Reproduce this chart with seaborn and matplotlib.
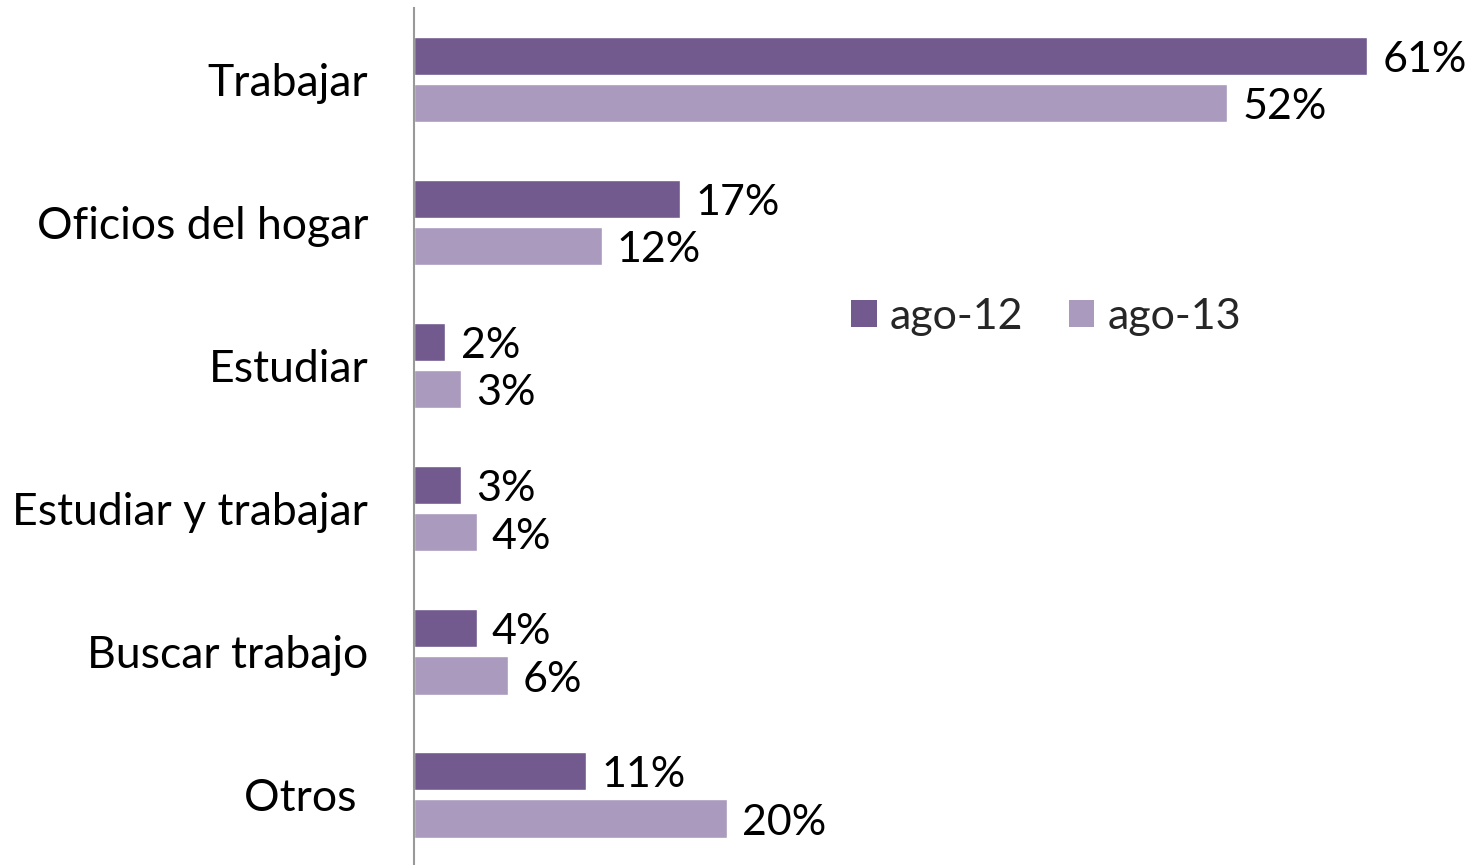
import matplotlib
matplotlib.use("Agg")
import matplotlib.pyplot as plt
import seaborn as sns
import pandas as pd
from matplotlib.patches import Patch

categories = ["Trabajar", "Oficios del hogar", "Estudiar", "Estudiar y trabajar", "Buscar trabajo", "Otros "]
series_names = ["ago-12", "ago-13"]
ago12 = [61, 17, 2, 3, 4, 11]
ago13 = [52, 12, 3, 4, 6, 20]
colors = ["#725a8e", "#a99abe"]

df = pd.DataFrame({
    "cat": categories * 2,
    "serie": [series_names[0]] * len(categories) + [series_names[1]] * len(categories),
    "val": ago12 + ago13,
})

sns.set_style("white")
plt.rcParams["font.family"] = ["Lato", "DejaVu Sans"]

fig = plt.figure(figsize=(14.8, 8.65), dpi=100)
ax = fig.add_axes([414 / 1480, 0, 1 - 414 / 1480, 1 - 8 / 865])

sns.barplot(data=df, y="cat", x="val", hue="serie", order=categories,
            hue_order=series_names, palette=colors, orient="h",
            width=0.66, gap=0.19, ax=ax, legend=False, saturation=1)

ax.set_xlim(0, 68.2)
ax.set_ylim(5.49, -0.5)
ax.set_xlabel("")
ax.set_ylabel("")
ax.set_xticks([])
for s in ["top", "right", "bottom"]:
    ax.spines[s].set_visible(False)
ax.spines["left"].set_color("#999999")
ax.spines["left"].set_linewidth(1.5)
ax.tick_params(axis="y", length=0, pad=33, labelsize=32, labelcolor="#000000")

for cont in ax.containers:
    anns = ax.bar_label(cont, labels=[f"{int(v)}%" for v in cont.datavalues],
                        padding=11, fontsize=31, color="#000000")
    for t in anns:
        t.xyann = (t.xyann[0], t.xyann[1] - 3)

handles = [Patch(facecolor=c, edgecolor="none") for c in colors]
ax.legend(handles, series_names, loc="center", bbox_to_anchor=(1046 / 1480, 1 - 317 / 865),
          bbox_transform=fig.transFigure, ncol=2, frameon=False, fontsize=31,
          handlelength=0.6, handleheight=0.6, handletextpad=0.3, columnspacing=1.05)

fig.savefig("out.png", dpi=100)
